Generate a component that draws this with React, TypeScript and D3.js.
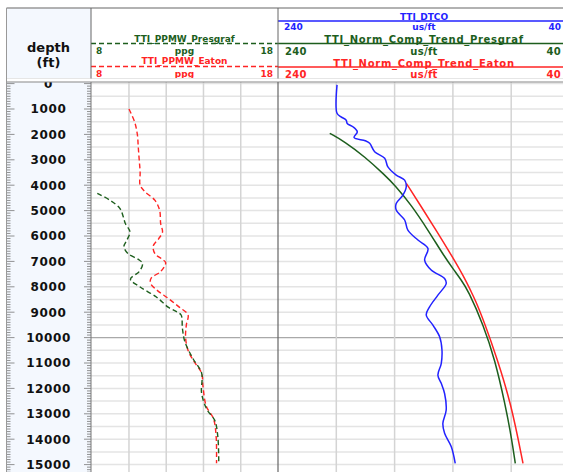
import React from "react";
import * as d3 from "d3";

// ---- depth axis ----
const depthLabels = [0, 1000, 2000, 3000, 4000, 5000, 6000, 7000, 8000, 9000, 10000, 11000, 12000, 13000, 14000, 15000];

// ---- track 1: pore pressure (ppg) ----
const ppgRange = [8, 18];
const eatonPpmwDepth = [1000, 1500, 2000, 2500, 3000, 3500, 4000, 4250, 4600, 5000, 5500, 5850, 6100, 6400, 6700, 6900, 7050, 7400, 7650, 7850, 8130, 8450, 8800, 9100, 9500, 10000, 10500, 10950, 11400, 11900, 12700, 13200, 13900, 14950];
const eatonPpmw = [10.0, 10.3, 10.45, 10.5, 10.55, 10.6, 10.6, 10.85, 11.4, 11.65, 11.7, 11.8, 11.6, 11.3, 11.4, 11.75, 11.97, 11.7, 11.2, 11.15, 11.5, 12.1, 12.7, 13.17, 13.08, 13.04, 13.17, 13.5, 13.9, 13.97, 14.15, 14.54, 14.68, 14.7];
const presgrafPpmwDepth = [4320, 4600, 4900, 5250, 5500, 5830, 6150, 6420, 6700, 6920, 7080, 7400, 7700, 8000, 8400, 8800, 8980, 9110, 9640, 10160, 10820, 11400, 12200, 12850, 13250, 13900, 14900];
const presgrafPpmw = [8.3, 9.0, 9.5, 9.7, 9.8, 10.05, 9.9, 9.73, 9.96, 10.5, 10.73, 10.55, 10.08, 10.58, 11.47, 12.1, 12.55, 12.8, 12.87, 13.0, 13.43, 13.9, 13.9, 14.2, 14.6, 14.77, 14.82];

// ---- track 2: sonic (us/ft) ----
const dtRange = [240, 40];
const dtcoDepth = [50, 1170, 1300, 1440, 1570, 1700, 1900, 2120, 2250, 2350, 2680, 2940, 3280, 3600, 3800, 4060, 4390, 4720, 4980, 5370, 5770, 6160, 6490, 6950, 7340, 7670, 7870, 8330, 8790, 9110, 9510, 9970, 10490, 11020, 11480, 11800, 12200, 12850, 13380, 13770, 14300, 14950];
const dtco = [199.5, 199.5, 197, 193.2, 192.5, 188.6, 185.6, 187.8, 180.1, 177.1, 173.7, 166.8, 164.6, 158.9, 153.1, 152, 154.3, 158.9, 158.9, 153.1, 150.9, 144, 137.1, 139.4, 134.9, 125.7, 124.6, 130.3, 136, 138.3, 133.7, 129.1, 127.5, 128, 130.3, 128, 125.7, 124.6, 126.9, 125.7, 121.1, 118.4];
const trendPresgrafDepth = [1957, 2287, 2878, 3598, 3992, 4780, 5764, 6815, 7346, 7740, 8134, 9512, 10890, 12587, 13902, 14949];
const trendPresgraf = [204.5, 194.2, 180.5, 166.8, 159.9, 148.5, 137.1, 125.8, 119.2, 114.2, 109.6, 99.0, 91.1, 84.3, 79.9, 77.2];
const trendEatonDepth = [3925, 4846, 5894, 6945, 7732, 8134, 8520, 9437, 10752, 12587, 14949];
const trendEaton = [152.0, 141.7, 130.2, 119.0, 111.3, 108.0, 104.6, 98.2, 90.1, 80.1, 71.9];

const FONT = "'DejaVu Sans', Verdana, sans-serif";
const RED = "#ff2424";
const GREEN = "#1d5e1d";
const BLUE = "#2222ff";

const frameL = 6.5;
const depthR = 91;
const t1R = 278;
const t2R = 569.5;
const headTop = 8;
const headBot = 78.5;
const dataTop = 82;
const H = 472;
const W = 563;

const y = d3.scaleLinear().domain([0, 15000]).range([83.6, 464.6]);
const xPpg = d3.scaleLinear().domain(ppgRange).range([depthR + 0.7, t1R]);
const xDt = d3.scaleLinear().domain(dtRange).range([t1R, t2R]);

function curve(
  depths: number[],
  vals: number[],
  xs: d3.ScaleLinear<number, number>,
  factory: d3.CurveFactory = d3.curveCatmullRom.alpha(0.5)
) {
  const pts = depths.map((d, i) => [xs(vals[i]), y(d)] as [number, number]);
  return d3.line().curve(factory)(pts) || "";
}

export default function App() {
  const minorTicks = d3.range(0, 15500, 100);
  const gridRows = d3.range(0, 15501, 500);
  const ppgGrid = d3.range(ppgRange[0] + 2, ppgRange[1], 2);
  const dtGrid = d3.range(200, 40, -40);

  const smallBold = { fontFamily: FONT, fontWeight: 700, fontSize: 9 } as const;
  const bigBold = { fontFamily: FONT, fontWeight: 700, fontSize: 10, letterSpacing: 0.3 } as const;
  const titleBold = { fontFamily: FONT, fontWeight: 700, fontSize: 10, letterSpacing: 0.7 } as const;
  const t1C = (depthR + t1R) / 2;
  const t2C = 424;

  return (
    <svg width={W} height={H} style={{ position: "absolute", left: 0, top: 0, background: "#fff" }}>
      <defs>
        <clipPath id="dataClip">
          <rect x={frameL} y={dataTop} width={W} height={H - dataTop} />
        </clipPath>
        <clipPath id="t1Clip">
          <rect x={depthR} y={dataTop} width={t1R - depthR} height={H - dataTop} />
        </clipPath>
        <clipPath id="t2Clip">
          <rect x={t1R} y={dataTop} width={W - t1R} height={H - dataTop} />
        </clipPath>
      </defs>

      {/* header */}
      <rect x={frameL} y={headTop} width={depthR - frameL} height={headBot - headTop} fill="#f4f8fe" />
      <text x={48.5} y={52} textAnchor="middle" style={{ fontFamily: FONT, fontWeight: 700, fontSize: 13 }} fill="#111">depth</text>
      <text x={48.5} y={67} textAnchor="middle" style={{ fontFamily: FONT, fontWeight: 700, fontSize: 13 }} fill="#111">(ft)</text>

      {/* track 1 header */}
      <text x={t1C} y={42} textAnchor="middle" style={smallBold} fill={GREEN}>TTI_PPMW_Presgraf</text>
      <line x1={depthR} x2={t1R} y1={43.5} y2={43.5} stroke={GREEN} strokeWidth={1.3} strokeDasharray="5,3" />
      <text x={96} y={53.5} style={smallBold} fill={GREEN}>{ppgRange[0]}</text>
      <text x={t1C} y={53.5} textAnchor="middle" style={smallBold} fill={GREEN}>ppg</text>
      <text x={273} y={53.5} textAnchor="end" style={smallBold} fill={GREEN}>{ppgRange[1]}</text>
      <text x={t1C} y={64} textAnchor="middle" style={smallBold} fill={RED}>TTI_PPMW_Eaton</text>
      <line x1={depthR} x2={t1R} y1={66.5} y2={66.5} stroke={RED} strokeWidth={1.3} strokeDasharray="5,3" />
      <text x={96} y={76.5} style={smallBold} fill={RED}>{ppgRange[0]}</text>
      <text x={t1C} y={76.5} textAnchor="middle" style={smallBold} fill={RED}>ppg</text>
      <text x={273} y={76.5} textAnchor="end" style={smallBold} fill={RED}>{ppgRange[1]}</text>

      {/* track 2 header */}
      <text x={t2C} y={19.5} textAnchor="middle" style={smallBold} fill={BLUE}>TTI_DTCO</text>
      <line x1={t1R} x2={W} y1={21} y2={21} stroke={BLUE} strokeWidth={1.5} />
      <text x={284} y={30} style={smallBold} fill={BLUE}>{dtRange[0]}</text>
      <text x={t2C} y={30} textAnchor="middle" style={smallBold} fill={BLUE}>us/ft</text>
      <text x={561} y={30} textAnchor="end" style={smallBold} fill={BLUE}>{dtRange[1]}</text>

      <text x={t2C} y={43} textAnchor="middle" style={titleBold} fill={GREEN}>TTI_Norm_Comp_Trend_Presgraf</text>
      <line x1={t1R} x2={W} y1={43.5} y2={43.5} stroke={GREEN} strokeWidth={1.5} />
      <text x={285} y={55} style={bigBold} fill={GREEN}>{dtRange[0]}</text>
      <text x={t2C} y={55} textAnchor="middle" style={bigBold} fill={GREEN}>us/ft</text>
      <text x={561} y={55} textAnchor="end" style={bigBold} fill={GREEN}>{dtRange[1]}</text>

      <text x={t2C} y={67} textAnchor="middle" style={titleBold} fill={RED}>TTI_Norm_Comp_Trend_Eaton</text>
      <line x1={t1R} x2={W} y1={67} y2={67} stroke={RED} strokeWidth={1.5} />
      <text x={285} y={77.5} style={bigBold} fill={RED}>{dtRange[0]}</text>
      <text x={t2C} y={77.5} textAnchor="middle" style={bigBold} fill={RED}>us/ft</text>
      <text x={561} y={77.5} textAnchor="end" style={bigBold} fill={RED}>{dtRange[1]}</text>

      {/* header frame */}
      <line x1={frameL} x2={W} y1={headTop} y2={headTop} stroke="#999" strokeWidth={1.5} />
      <line x1={frameL} x2={W} y1={headBot} y2={headBot} stroke="#e6e6e6" strokeWidth={1} />
      <line x1={depthR} x2={depthR} y1={headTop} y2={headBot} stroke="#666" strokeWidth={1} />
      <line x1={t1R} x2={t1R} y1={headTop} y2={headBot} stroke="#666" strokeWidth={1} />

      {/* depth column */}
      <g clipPath="url(#dataClip)">
        <rect x={frameL} y={dataTop} width={depthR - frameL} height={H - dataTop} fill="#f4f8fe" />
        {minorTicks.map((d) => {
          const major = d % 1000 === 0;
          return (
            <g key={d}>
              <line x1={frameL} x2={frameL + (major ? 8 : 4)} y1={y(d)} y2={y(d)} stroke="#777" strokeWidth={0.8} />
              <line x1={depthR - (major ? 7 : 4)} x2={depthR} y1={y(d)} y2={y(d)} stroke="#777" strokeWidth={0.8} />
            </g>
          );
        })}
        {depthLabels.map((d) => (
          <text key={d} x={48.5} y={y(d)} dy="0.36em" textAnchor="middle" style={{ fontFamily: FONT, fontWeight: 700, fontSize: 12, letterSpacing: 0.6 }} fill="#111">
            {d}
          </text>
        ))}

        {/* grid rows in tracks */}
        {gridRows.map((d) => (
          <line key={d} x1={depthR} x2={W} y1={y(d)} y2={y(d)} stroke={d === 10000 ? "#a9a9a9" : "#e4e4e4"} strokeWidth={d === 10000 ? 1.2 : 1.5} />
        ))}
        {ppgGrid.map((v) => (
          <line key={v} x1={xPpg(v)} x2={xPpg(v)} y1={dataTop} y2={H} stroke="#d4d4d4" strokeWidth={1.5} />
        ))}
        {dtGrid.map((v) => (
          <line key={v} x1={xDt(v)} x2={xDt(v)} y1={dataTop} y2={H} stroke="#d4d4d4" strokeWidth={1.5} />
        ))}
      </g>

      {/* track 1 curves */}
      <g clipPath="url(#t1Clip)" fill="none" strokeWidth={1.4}>
        <path d={curve(eatonPpmwDepth, eatonPpmw, xPpg)} stroke={RED} strokeDasharray="5,3" />
        <path d={curve(presgrafPpmwDepth, presgrafPpmw, xPpg)} stroke={GREEN} strokeDasharray="5,3" />
      </g>

      {/* track 2 curves */}
      <g clipPath="url(#t2Clip)" fill="none" strokeWidth={1.5}>
        <path d={curve(trendEatonDepth, trendEaton, xDt, d3.curveBasis)} stroke={RED} />
        <path d={curve(trendPresgrafDepth, trendPresgraf, xDt, d3.curveBasis)} stroke={GREEN} />
        <path d={curve(dtcoDepth, dtco, xDt)} stroke={BLUE} />
      </g>

      {/* data frame */}
      <line x1={frameL} x2={W} y1={dataTop} y2={dataTop} stroke="#888" strokeWidth={1.2} />
      <line x1={frameL} x2={frameL} y1={headTop} y2={H} stroke="#999" strokeWidth={1} />
      <line x1={depthR} x2={depthR} y1={dataTop} y2={H} stroke="#777" strokeWidth={1} />
      <line x1={t1R} x2={t1R} y1={dataTop} y2={H} stroke="#666" strokeWidth={1.2} />
    </svg>
  );
}
